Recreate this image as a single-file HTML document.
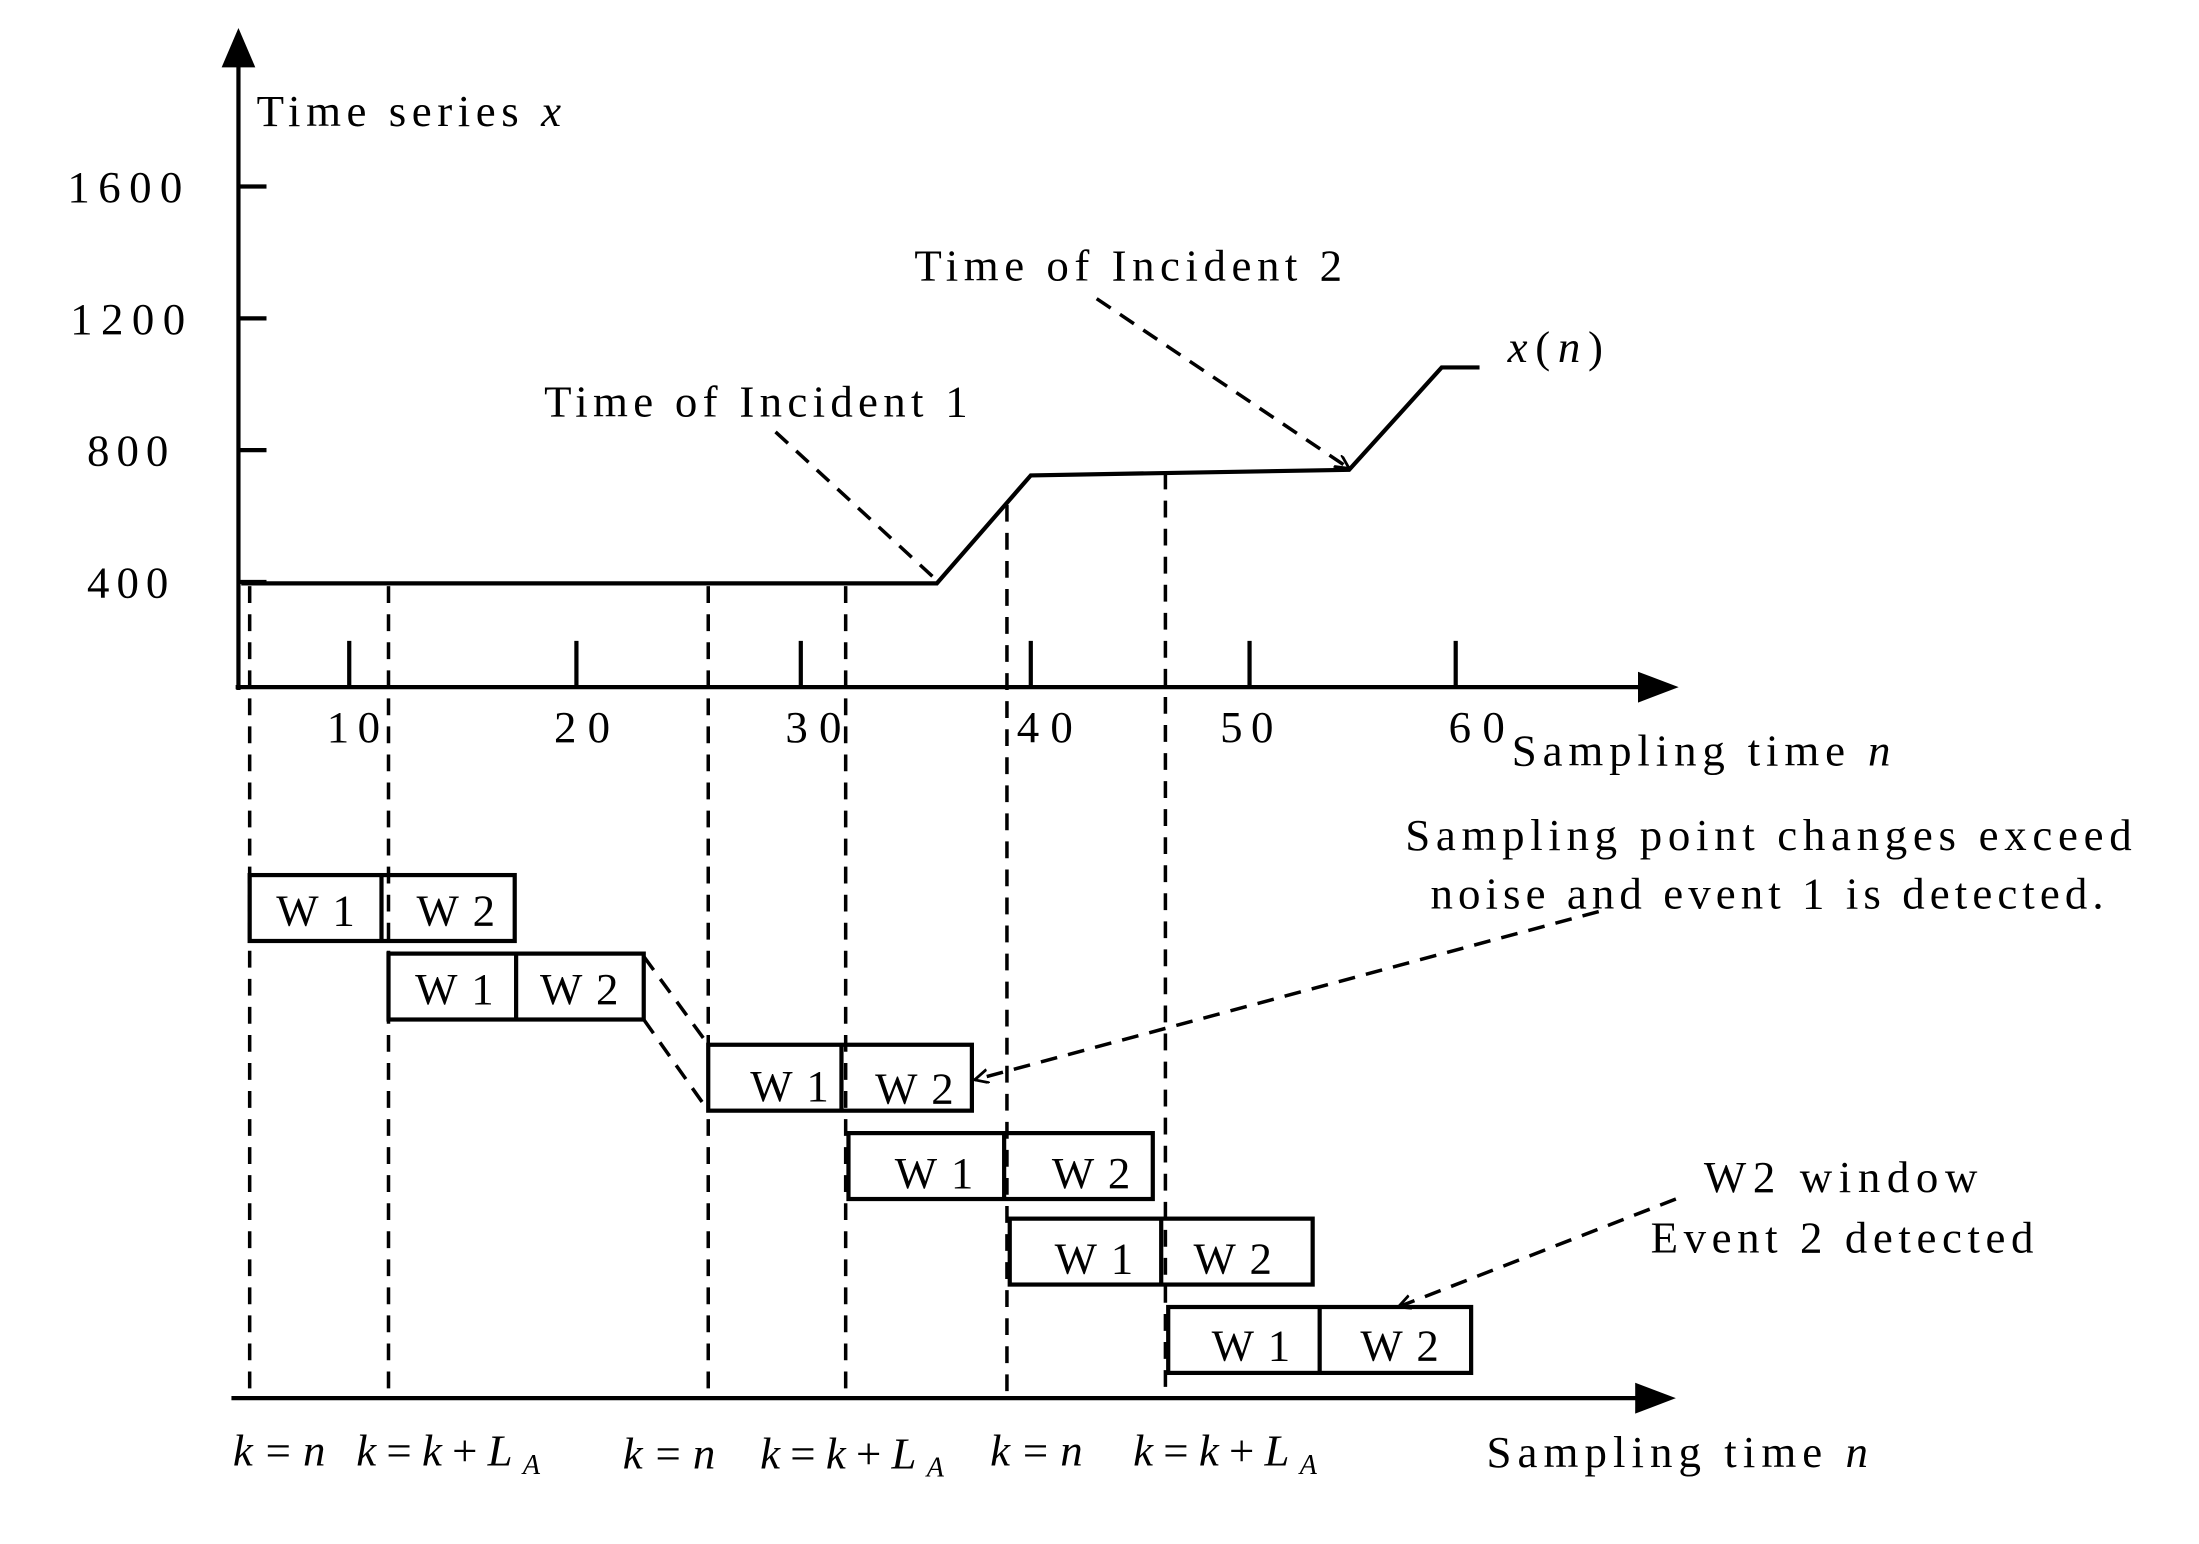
<!DOCTYPE html>
<html><head><meta charset="utf-8"><style>
html,body{margin:0;padding:0;background:#fff;}
svg{display:block;}
text{font-family:"Liberation Serif",serif;font-size:32px;fill:#000;}
.i{font-style:italic;}
</style></head><body>
<svg width="2199" height="1544" viewBox="0 0 1568 1101" xmlns="http://www.w3.org/2000/svg">
<defs>
<marker id="ah" markerWidth="12" markerHeight="12" refX="10" refY="5" orient="auto" markerUnits="userSpaceOnUse"><path d="M0,0 L10,5 L0,10" fill="none" stroke="#000" stroke-width="2"/></marker>
</defs>
<g stroke="#000" stroke-width="3" fill="none">
<line x1="170" y1="492" x2="170" y2="40"/>
<line x1="168" y1="490" x2="1172" y2="490"/>
<line x1="165" y1="997" x2="1170" y2="997"/>
<line x1="170" y1="133" x2="190" y2="133"/>
<line x1="170" y1="227" x2="190" y2="227"/>
<line x1="170" y1="321" x2="190" y2="321"/>
<line x1="170" y1="415" x2="190" y2="415"/>
<line x1="249" y1="457" x2="249" y2="490"/>
<line x1="411" y1="457" x2="411" y2="490"/>
<line x1="571" y1="457" x2="571" y2="490"/>
<line x1="735" y1="457" x2="735" y2="490"/>
<line x1="891" y1="457" x2="891" y2="490"/>
<line x1="1038" y1="457" x2="1038" y2="490"/>
<polyline points="172,416 668,416 735,339 962,335 1028,262 1055,262"/>
<rect x="178" y="624" width="189" height="47"/><line x1="272" y1="624" x2="272" y2="671"/>
<rect x="277" y="680" width="182" height="47"/><line x1="368" y1="680" x2="368" y2="727"/>
<rect x="505" y="745" width="188" height="47"/><line x1="600" y1="745" x2="600" y2="792"/>
<rect x="605" y="808" width="217" height="47"/><line x1="716" y1="808" x2="716" y2="855"/>
<rect x="720" y="869" width="216" height="47"/><line x1="828" y1="869" x2="828" y2="916"/>
<rect x="833" y="932" width="216" height="47"/><line x1="941" y1="932" x2="941" y2="979"/>
</g>
<polygon points="170,20 158,48 182,48" fill="#000"/>
<polygon points="1197,490 1168,479 1168,501" fill="#000"/>
<polygon points="1195,997 1166,986 1166,1008" fill="#000"/>
<g stroke="#000" stroke-width="2.5" fill="none" stroke-dasharray="12,8">
<line x1="178" y1="418" x2="178" y2="995"/>
<line x1="277" y1="418" x2="277" y2="995"/>
<line x1="505" y1="418" x2="505" y2="995"/>
<line x1="603" y1="418" x2="603" y2="995"/>
<line x1="718" y1="360" x2="718" y2="995"/>
<line x1="831" y1="337" x2="831" y2="995"/>
<line x1="553" y1="308" x2="666" y2="412"/>
<line x1="782" y1="213" x2="962" y2="334" marker-end="url(#ah)"/>
<line x1="459" y1="682" x2="505" y2="745"/>
<line x1="459" y1="727" x2="505" y2="792"/>
<line x1="1140" y1="650" x2="695" y2="770" marker-end="url(#ah)"/>
<line x1="1195" y1="855" x2="997" y2="932" marker-end="url(#ah)"/>
</g>
<text x="183" y="90" textLength="217">Time series <tspan class="i">x</tspan></text>
<text x="48" y="144" textLength="82">1600</text>
<text x="50" y="238" textLength="82">1200</text>
<text x="62" y="332" textLength="58">800</text>
<text x="62" y="426" textLength="58">400</text>
<text x="233" y="529" textLength="38">10</text>
<text x="395" y="529" textLength="40">20</text>
<text x="560" y="529" textLength="40">30</text>
<text x="725" y="529" textLength="40">40</text>
<text x="870" y="529" textLength="38">50</text>
<text x="1033" y="529" textLength="40">60</text>
<text x="1078" y="546" textLength="270">Sampling time <tspan class="i">n</tspan></text>
<text x="388" y="297" textLength="302">Time of Incident 1</text>
<text x="652" y="200" textLength="305">Time of Incident 2</text>
<text x="1075" y="258" textLength="68"><tspan class="i">x</tspan>(<tspan class="i">n</tspan>)</text>
<text x="1002" y="606" textLength="518">Sampling point changes exceed</text>
<text x="1020" y="648" textLength="480">noise and event 1 is detected.</text>
<text x="1215" y="850" textLength="195">W2 window</text>
<text x="1177" y="893" textLength="273">Event 2 detected</text>
<text x="197" y="660" textLength="56">W1</text><text x="297" y="660" textLength="56">W2</text>
<text x="296" y="716" textLength="56">W1</text><text x="385" y="716" textLength="56">W2</text>
<text x="535" y="785" textLength="56">W1</text><text x="624" y="787" textLength="56">W2</text>
<text x="638" y="847" textLength="56">W1</text><text x="750" y="847" textLength="56">W2</text>
<text x="752" y="908" textLength="56">W1</text><text x="851" y="908" textLength="56">W2</text>
<text x="864" y="970" textLength="56">W1</text><text x="970" y="970" textLength="56">W2</text>
<text x="166" y="1045" class="i" textLength="66">k=n</text>
<text x="254" y="1045" textLength="131"><tspan class="i">k</tspan>=<tspan class="i">k</tspan>+<tspan class="i">L</tspan><tspan class="i" font-size="20" dy="6">A</tspan></text>
<text x="444" y="1047" class="i" textLength="66">k=n</text>
<text x="542" y="1047" textLength="131"><tspan class="i">k</tspan>=<tspan class="i">k</tspan>+<tspan class="i">L</tspan><tspan class="i" font-size="20" dy="6">A</tspan></text>
<text x="706" y="1045" class="i" textLength="66">k=n</text>
<text x="808" y="1045" textLength="131"><tspan class="i">k</tspan>=<tspan class="i">k</tspan>+<tspan class="i">L</tspan><tspan class="i" font-size="20" dy="6">A</tspan></text>
<text x="1060" y="1046" textLength="272">Sampling time <tspan class="i">n</tspan></text>
</svg>
</body></html>
